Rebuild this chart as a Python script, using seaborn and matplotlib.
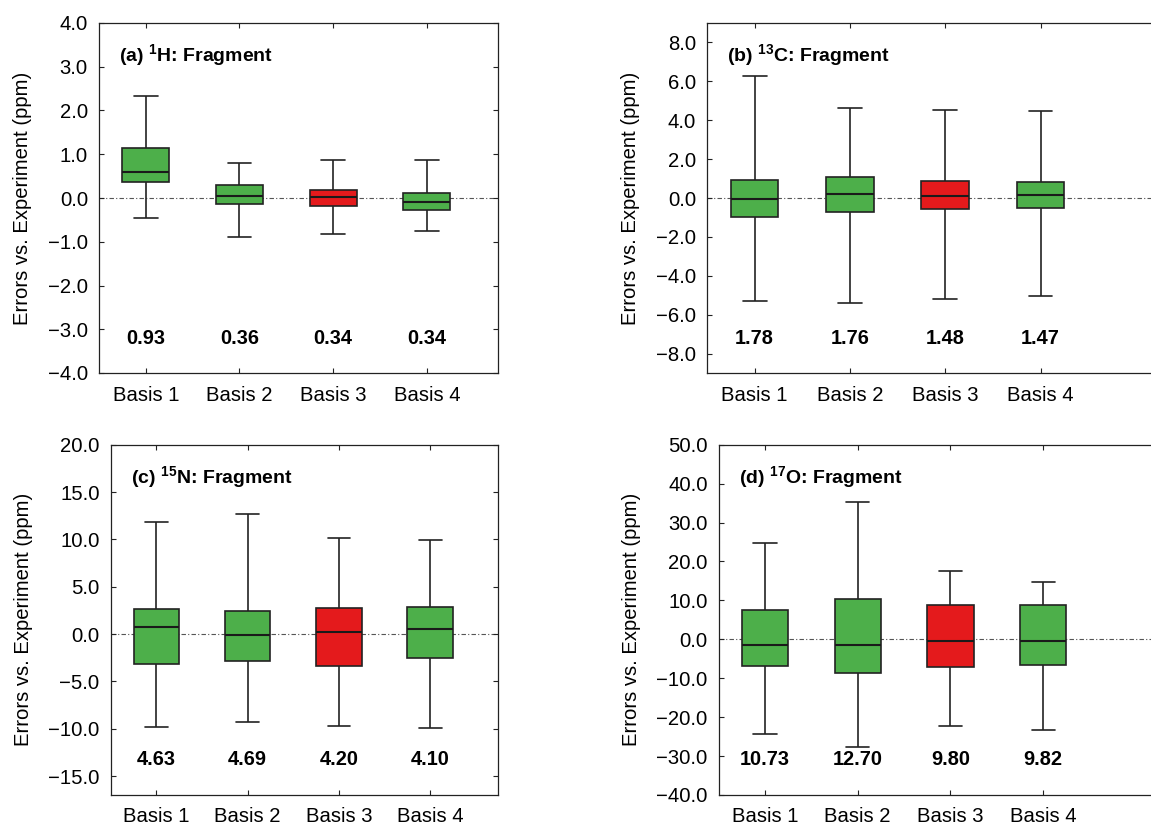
import numpy as np
import pandas as pd
import matplotlib
matplotlib.use("Agg")
import matplotlib.pyplot as plt
import matplotlib.transforms as mtransforms
from matplotlib.ticker import FuncFormatter
import seaborn as sns

# ---- data -------------------------------------------------------------
bases = ["Basis 1", "Basis 2", "Basis 3", "Basis 4"]
box_colors = ["#4daf4a", "#4daf4a", "#e41a1c", "#4daf4a"]

# (a) 1H
h_low = [-0.46, -0.89, -0.82, -0.76]
h_q1 = [0.37, -0.13, -0.19, -0.28]
h_med = [0.59, 0.05, 0.02, -0.08]
h_q3 = [1.14, 0.29, 0.18, 0.11]
h_high = [2.34, 0.79, 0.88, 0.86]
h_rmsd = [0.93, 0.36, 0.34, 0.34]

# (b) 13C
c_low = [-5.30, -5.41, -5.17, -5.06]
c_q1 = [-1.00, -0.74, -0.57, -0.53]
c_med = [-0.03, 0.19, 0.12, 0.15]
c_q3 = [0.93, 1.08, 0.88, 0.84]
c_high = [6.28, 4.65, 4.55, 4.48]
c_rmsd = [1.78, 1.76, 1.48, 1.47]

# (c) 15N
n_low = [-9.82, -9.30, -9.72, -9.89]
n_q1 = [-3.13, -2.85, -3.38, -2.54]
n_med = [0.70, -0.07, 0.25, 0.49]
n_q3 = [2.64, 2.46, 2.78, 2.85]
n_high = [11.87, 12.71, 10.18, 9.93]
n_rmsd = [4.63, 4.69, 4.20, 4.10]

# (d) 17O
o_low = [-24.3, -27.65, -22.26, -23.37]
o_q1 = [-6.93, -8.73, -7.02, -6.51]
o_med = [-1.37, -1.54, -0.51, -0.34]
o_q3 = [7.62, 10.36, 8.82, 8.90]
o_high = [24.74, 35.36, 17.55, 14.73]
o_rmsd = [10.73, 12.70, 9.80, 9.82]

panel_letters = ["a", "b", "c", "d"]
isotopes = ["1", "13", "15", "17"]
elements = ["H", "C", "N", "O"]
y_limits = [(-4, 4), (-9, 9), (-17, 20), (-40, 50)]
y_ticks = [np.arange(-4, 4.1, 1), np.arange(-8, 8.1, 2),
           np.arange(-15, 20.1, 5), np.arange(-40, 50.1, 10)]

stats = [
    (h_low, h_q1, h_med, h_q3, h_high, h_rmsd),
    (c_low, c_q1, c_med, c_q3, c_high, c_rmsd),
    (n_low, n_q1, n_med, n_q3, n_high, n_rmsd),
    (o_low, o_q1, o_med, o_q3, o_high, o_rmsd),
]

# ---- style ------------------------------------------------------------
sns.set_style("ticks")
plt.rcParams["font.family"] = ["Liberation Sans", "DejaVu Sans"]
plt.rcParams["mathtext.fontset"] = "custom"
plt.rcParams["mathtext.rm"] = "Liberation Sans"
plt.rcParams["mathtext.bf"] = "Liberation Sans:bold"
plt.rcParams["mathtext.default"] = "bf"
plt.rcParams["axes.edgecolor"] = "#222222"
plt.rcParams["axes.linewidth"] = 0.9
plt.rcParams["text.color"] = "black"
plt.rcParams["axes.labelcolor"] = "black"

W, H = 1151, 827
fig = plt.figure(figsize=(W / 100, H / 100), dpi=100)

# axes rectangles in pixels: left, top, right, bottom; plus right x-limit
frames = [
    (99.0, 23.0, 498.0, 373.0, 3.76),
    (707.0, 23.0, 1165.0, 373.0, 4.306),
    (110.7, 444.7, 498.3, 795.0, 3.745),
    (718.7, 444.7, 1165.0, 795.0, 4.315),
]

minus_fmt = FuncFormatter(lambda v, _: f"{v:.1f}".replace("-", "\u2212"))

for i, (frame, st) in enumerate(zip(frames, stats)):
    l, t, r, b, xr = frame
    ax = fig.add_axes([l / W, 1 - b / H, (r - l) / W, (b - t) / H])
    low, q1, med, q3, high, rmsd = st

    # five values per basis reproduce the whisker ends, quartiles and median
    rows = []
    for name, a0, a1, a2, a3, a4 in zip(bases, low, q1, med, q3, high):
        for v in (a0, a1, a2, a3, a4):
            rows.append({"basis": name, "value": v})
    df = pd.DataFrame(rows)

    ax.axhline(0, color="#555555", lw=0.8, ls=(0, (4, 2, 1, 2)), zorder=0.5)

    sns.boxplot(
        data=df, x="basis", y="value", hue="basis", order=bases,
        hue_order=bases, palette=box_colors, saturation=1, legend=False,
        whis=(0, 100), width=0.5, linewidth=1.2, linecolor="#222222",
        fliersize=0, ax=ax,
        medianprops=dict(color="#1a1a1a", linewidth=1.5),
    )

    ax.set_xlim(-0.5, xr)
    ax.set_ylim(*y_limits[i])
    ax.set_yticks(y_ticks[i])
    ax.yaxis.set_major_formatter(minus_fmt)
    ax.set_xlabel("")
    ax.set_ylabel("Errors vs. Experiment (ppm)", fontsize=14.6, labelpad=11)
    ax.tick_params(direction="in", top=True, right=True, length=3.6,
                   width=0.8, colors="#222222", labelcolor="black",
                   labelsize=14.6)
    ax.tick_params(axis="x", pad=9)
    ax.tick_params(axis="y", pad=8)
    for sp in ax.spines.values():
        sp.set_visible(True)

    trans = mtransforms.blended_transform_factory(ax.transData, ax.transAxes)
    for k, v in enumerate(rmsd):
        ax.text(k, 0.10, f"{v:.2f}", transform=trans, ha="center",
                va="center", fontsize=14.4, fontweight="bold")

    ax.annotate(
        f"({panel_letters[i]}) $^{{{isotopes[i]}}}$"
        f"{elements[i]}: Fragment",
        xy=(0, 1), xycoords="axes fraction", xytext=(20, -38),
        textcoords="offset pixels", ha="left", va="baseline",
        fontsize=14, fontweight="bold",
    )

fig.savefig("out.png", dpi=100)
